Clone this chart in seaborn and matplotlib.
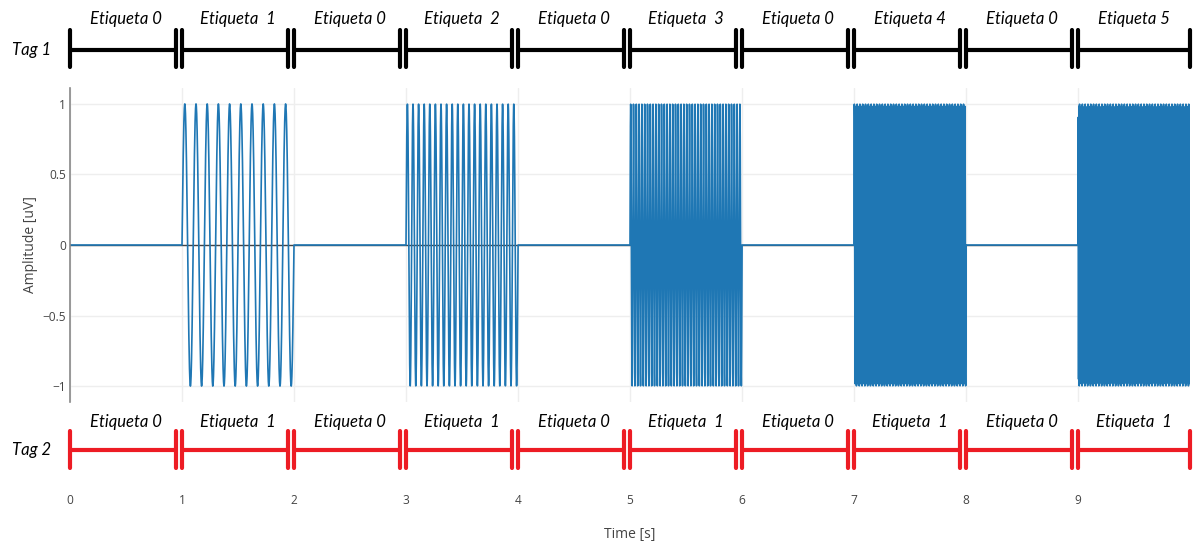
import numpy as np
import pandas as pd
import matplotlib
matplotlib.use("Agg")
import matplotlib.pyplot as plt
import seaborn as sns

# ---- data -------------------------------------------------------------
sample_rate = 1000           # Hz
duration = 10.0              # s
burst_starts = [1, 3, 5, 7, 9]          # s, each burst lasts 1 s
burst_freqs = [10, 20, 40, 80, 160]     # Hz
burst_amplitude = 1.0                   # uV

segment_starts = [0, 1, 2, 3, 4, 5, 6, 7, 8, 9]
segment_ends = [0.95, 1.95, 2.95, 3.95, 4.95, 5.95, 6.95, 7.95, 8.95, 10.0]
tag1_labels = ["Etiqueta 0", "Etiqueta  1", "Etiqueta 0", "Etiqueta  2",
               "Etiqueta 0", "Etiqueta  3", "Etiqueta 0", "Etiqueta 4",
               "Etiqueta 0", "Etiqueta 5"]
tag2_labels = ["Etiqueta 0", "Etiqueta  1", "Etiqueta 0", "Etiqueta  1",
               "Etiqueta 0", "Etiqueta  1", "Etiqueta 0", "Etiqueta  1",
               "Etiqueta 0", "Etiqueta  1"]
x_ticks = [0, 1, 2, 3, 4, 5, 6, 7, 8, 9]
y_ticks = [-1, -0.5, 0, 0.5, 1]
y_ticklabels = ["\u22121", "\u22120.5", "0", "0.5", "1"]

# ---- signal: silent baseline with sine bursts ------------------------
t = np.arange(0, duration, 1.0 / sample_rate)
signal = np.zeros_like(t)
for start, freq in zip(burst_starts, burst_freqs):
    mask = (t >= start) & (t < start + 1)
    signal[mask] = burst_amplitude * np.sin(2 * np.pi * freq * (t[mask] - start))
df = pd.DataFrame({"Time [s]": t, "Amplitude [uV]": signal})

# ---- figure -----------------------------------------------------------
sns.set_theme(style="white")
plt.rcParams["font.family"] = ["Open Sans", "DejaVu Sans"]

W, H = 1198, 543
fig = plt.figure(figsize=(W / 100, H / 100), dpi=100)


def px_axes(left, top, right, bottom):
    return fig.add_axes([left / W, 1 - bottom / H, (right - left) / W, (bottom - top) / H])


x_left, x_right = 70, 1190
ax = px_axes(x_left, 88, x_right, 402)
ax_top = px_axes(x_left, 0, x_right, 86)
ax_bot = px_axes(x_left, 404, x_right, 490)

tick_color = "#444444"
line_color = "#1f77b4"

# main signal
ax.axhline(0, color="#444444", lw=1.0, zorder=1)
sns.lineplot(data=df, x="Time [s]", y="Amplitude [uV]", ax=ax, color=line_color,
             linewidth=1.2, estimator=None, sort=False, zorder=2)
ax.set_xlim(0, duration)
ax.set_ylim(-1.113, 1.113)
ax.set_yticks(y_ticks)
ax.set_yticklabels(y_ticklabels)
ax.set_xticks(x_ticks)
ax.tick_params(axis="x", labelbottom=False, length=0)
ax.tick_params(axis="y", length=0, pad=3, labelsize=8.6, labelcolor=tick_color)
ax.grid(True, color="#eeeeee", lw=1.0)
ax.set_axisbelow(True)
for s in ["top", "right", "bottom"]:
    ax.spines[s].set_visible(False)
ax.spines["left"].set_color("#888888")
ax.spines["left"].set_linewidth(1.2)
ax.set_xlabel("")
ax.set_ylabel("Amplitude [uV]", fontsize=10, color=tick_color, labelpad=3)


def draw_tags(axt, labels, color, name, y_line, y_cap0, y_cap1, y_text):
    axt.set_xlim(0, duration)
    for s0, s1 in zip(segment_starts, segment_ends):
        axt.plot([s0, s1], [y_line, y_line], color=color, lw=3.0,
                 solid_capstyle="butt", clip_on=False)
        for xc in (s0, s1):
            axt.plot([xc, xc], [y_cap0, y_cap1], color=color, lw=3.0,
                     solid_capstyle="round", clip_on=False)
    for s0, lab in zip(segment_starts, labels):
        axt.text(s0 + 0.5, y_text, lab, ha="center", va="center",
                 fontsize=12, style="italic", family=["Lato", "DejaVu Sans"],
                 color="black")
    axt.text(-38 / 112, y_line, name, ha="center", va="center", fontsize=12,
             style="italic", family=["Lato", "DejaVu Sans"], color="black",
             clip_on=False)
    for s in axt.spines.values():
        s.set_visible(False)
    axt.set_yticks([])
    axt.set_facecolor("none")


# top tag row (pixel coordinates on y)
ax_top.set_ylim(86, 0)
draw_tags(ax_top, tag1_labels, "black", "Tag 1", 50, 30, 67, 19)
ax_top.set_xticks([])

# bottom tag row with the time axis labels
ax_bot.set_ylim(490, 404)
draw_tags(ax_bot, tag2_labels, "#ed1c24", "Tag 2", 450, 431, 468, 422)
ax_bot.set_xticks(x_ticks)
ax_bot.tick_params(axis="x", length=0, pad=3, labelsize=8.6, labelcolor=tick_color)
ax_bot.set_xlabel("Time [s]", fontsize=10, color=tick_color, labelpad=14)

fig.savefig("out.png", dpi=100)
